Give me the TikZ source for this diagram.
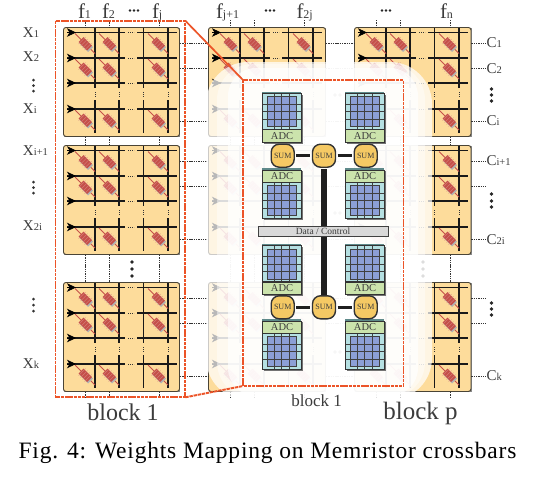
\documentclass[tikz,border=0pt]{standalone}
\usepackage{fontspec}
\setmainfont{Liberation Serif}
\usetikzlibrary{calc,arrows.meta}
\definecolor{tilefill}{HTML}{FDDC9B}
\definecolor{tileedge}{HTML}{4A4436}
\definecolor{memred}{HTML}{C5504A}
\definecolor{insetred}{HTML}{EC5428}
\definecolor{labelgray}{HTML}{3C3C3C}
\definecolor{cyanfill}{HTML}{B5E0E2}
\definecolor{bluefill}{HTML}{8C9FD6}
\definecolor{adcfill}{HTML}{CBE3AC}
\definecolor{sumfill}{HTML}{F5C964}
\definecolor{topface}{HTML}{5F8A8A}
\newcommand{\fsz}[1]{\fontsize{#1}{#1}\selectfont}
\tikzset{
  x=1pt,y=-1pt,
  txt/.style={inner sep=0pt,outer sep=0pt,text=labelgray},
  tilebox/.style={draw=tileedge,line width=.9pt,fill=tilefill,rounded corners=2.5pt,
    anchor=north west,inner sep=0pt,minimum height=109pt},
  wire/.style={line width=1.3pt,black!90},
  tick/.style={line width=.7pt,black!80,dash pattern=on 1.4pt off .9pt},
  redbox/.style={draw=insetred,line width=1.9pt,dash pattern=on 3.4pt off .8pt},
  busline/.style={line width=6pt,black!88},
  linkline/.style={line width=2.6pt,black!88,shorten <=1.5pt,shorten >=1.5pt},
  sumbox/.style={draw=black!80,line width=1.4pt,fill=sumfill,rounded corners=8pt,
    minimum width=23pt,minimum height=23pt,inner sep=0pt,font=\fsz{8},text=labelgray},
  flab/.style={txt,font=\fsz{21},anchor=base west},
  memr/.pic={
    \draw[memred,line width=1pt] (0,0) -- (20,20);
    \draw[black!30,line width=7pt] (7,7.5) -- (15.5,16);
    \draw[memred,line width=7pt] (6,6) -- (14.5,14.5);
    \foreach \t in {7,9,...,14}{\draw[memred!70!white,line width=.35pt] (\t-3.4,\t+3.4) -- (\t+3.4,\t-3.4);}
  }
}
\newcommand{\tile}[4]{% name, x, y, width
  \node[tilebox,minimum width=#4pt] (#1) at (#2,#3) {};
  \begin{scope}[shift={(#2,#3)}]
    \foreach \r in {5.5,31,56,82}{
      \draw[wire] (4,\r) -- (62,\r);
      \draw[wire] (74,\r) -- (114,\r);
      \draw[line width=1pt,black!80,dash pattern=on 1.2pt off .8pt] (65,\r) -- (71,\r);
      \draw[-{Stealth[length=9pt,width=8.5pt,inset=2.5pt]},line width=.8pt,black] (4,\r) -- (13,\r);
    }
    \foreach \c in {32,56,80.5,105}{
      \draw[wire] (\c,1) -- (\c,61);
      \draw[wire] (\c,73) -- (\c,106);
      \draw[line width=1pt,black!80,dash pattern=on 1.2pt off .8pt] (\c,65) -- (\c,70);
    }
    \foreach \r in {6.5,32,83}{
      \foreach \c in {12,36,85}{
        \pic at (\c,\r) {memr};
      }
    }
  \end{scope}
}
\newcommand{\cellgrid}[2]{% x,y of cyan top left
  \fill[cyanfill] (#1,#2) rectangle ++(38.7,36);
  \fill[bluefill] (#1+5.4,#2+3.4) rectangle ++(29,30);
  \draw[black!75,line width=.8pt] (#1+5.4,#2+3.4) rectangle ++(29,30);
  \foreach \d in {11.7,19.4,27}{\draw[black!75,line width=.8pt] (#1+\d,#2) -- ++(0,36);}
  \foreach \d in {10.7,18.4,26}{\draw[black!75,line width=.8pt] (#1,#2+\d) -- ++(38.7,0);}
}
\newcommand{\unitA}[3]{% name, x, y : cyan on top, ADC below
  \fill[black!55] (#2+1.6,#3+1.6) rectangle ++(38.7,49);
  \fill[topface] (#2,#3-1.4) rectangle ++(38.7,1.4);
  \cellgrid{#2}{#3}
  \node[draw=black!80,line width=.8pt,fill=adcfill,anchor=north west,minimum width=38.7pt,minimum height=12.7pt,inner sep=0pt,font=\fsz{10.5},text=labelgray] (#1) at (#2,#3+36) {ADC};
  \draw[black!80,line width=.8pt] (#2,#3) rectangle ++(38.7,36);
}
\newcommand{\unitB}[3]{% name, x, y : ADC on top, cyan below
  \fill[black!55] (#2+1.6,#3+1.6) rectangle ++(38.7,49);
  \fill[topface] (#2,#3-1.4) rectangle ++(38.7,1.4);
  \cellgrid{#2}{#3+12.7}
  \node[draw=black!80,line width=.8pt,fill=adcfill,anchor=north west,minimum width=38.7pt,minimum height=12.7pt,inner sep=0pt,font=\fsz{10.5},text=labelgray] (#1) at (#2,#3) {ADC};
  \draw[black!80,line width=.8pt] (#2,#3+12.7) rectangle ++(38.7,36);
}
\newcommand{\rl}[5]{\node[txt,font=\fsz{15},anchor=west] (#1) at (#2,#3) {#4\fsz{10.5}#5};}
\begin{document}
\begin{tikzpicture}
\useasboundingbox (0,0) rectangle (536,488);
\fill[white] (0,0) rectangle (536,488);
% crossbar tiles
\foreach \n/\y in {1/27,2/145,3/282}{
  \fill[black!45] (64.2,\y+1.3) rectangle ++(116,109);
  \fill[black!45] (209.2,\y+1.3) rectangle ++(117,109);
  \fill[black!45] (355.2,\y+1.3) rectangle ++(116.5,109);
  \tile{a\n}{63}{\y}{116}
  \tile{b\n}{208}{\y}{117}
  \tile{c\n}{354}{\y}{116.5}
}
% vertical ticks
\foreach \col in {a,b,c}{
  \foreach \d in {22,46,96}{
    \draw[tick] ($(\col1.north west)+(\d,-7)$) -- ($(\col1.north west)+(\d,0)$);
    \draw[tick] ($(\col1.south west)+(\d,0)$) -- ($(\col2.north west)+(\d,0)$);
    \draw[tick] ($(\col2.south west)+(\d,0)$) -- ($(\col3.north west)+(\d,0)$);
    \draw[tick] ($(\col3.south west)+(\d,0)$) -- ($(\col3.south west)+(\d,6)$);
  }
}
% horizontal ticks
\foreach \n in {1,2,3}{
  \foreach \d in {16,41,94}{
    \draw[tick] ($(a\n.north east)+(0,\d)$) -- ($(b\n.north west)+(0,\d)$);
    \draw[tick] ($(b\n.north east)+(0,\d)$) -- ($(c\n.north west)+(0,\d)$);
    \draw[tick] ($(c\n.north east)+(0,\d)$) -- ($(c\n.north east)+(14,\d)$);
  }
}
% dots between tiles
\foreach \x in {132,278,423}{\foreach \y in {262,269,276}{\fill[black!85] (\x,\y) circle (1.9);}}
\foreach \y in {95,213,352}{\fill[black!70] (335,\y) circle (1.8); \fill[black!70] (340,\y) circle (1.8);}
% translucent overlay
\fill[white,opacity=.72,rounded corners=42pt] (206,62) rectangle (432,400);
\fill[white,opacity=.45,rounded corners=36pt] (217,64) rectangle (425,398);
\fill[white,opacity=.7,rounded corners=28pt] (228,68) rectangle (418,396);
% outer selection
\draw[redbox] (55.5,20.7) rectangle (185.3,397.3);
\coordinate (ot) at (185.3,20.7);
\coordinate (ob) at (185.3,397.3);
\coordinate (it) at (243,80);
\coordinate (ib) at (243,386);
\draw[insetred,line width=1.7pt] (ot) -- (it);
\draw[redbox] (ob) -- (ib);
\draw[redbox] (243,80) rectangle (403.5,386);
% inset contents
\unitA{u1}{262.3}{93.3}
\unitA{u2}{345.3}{93.3}
\unitB{u3}{262.3}{169.5}
\unitB{u4}{345.3}{169.5}
\unitA{u5}{262.3}{245.5}
\unitA{u6}{345.3}{245.5}
\unitB{u7}{262.3}{320.7}
\unitB{u8}{345.3}{320.7}
\node[draw=black!75,line width=.8pt,fill=black!15,minimum width=130pt,minimum height=10pt,inner sep=0pt,font=\fsz{9.5},text=labelgray] (bus) at (323,231.2) {Data / Control};
\node[sumbox] (s1) at (282.7,155.7) {SUM};
\node[sumbox] (s2) at (324,155.7) {SUM};
\node[sumbox] (s3) at (365.7,155.7) {SUM};
\node[sumbox] (s4) at (282.7,307.3) {SUM};
\node[sumbox] (s5) at (324,307.3) {SUM};
\node[sumbox] (s6) at (365.7,307.3) {SUM};
\draw[linkline] (s1) -- (s2);
\draw[linkline] (s2) -- (s3);
\draw[linkline] (s4) -- (s5);
\draw[linkline] (s5) -- (s6);
\draw[busline,shorten <=1pt] (s2.south) -- (bus.north -| s2.south);
\draw[busline] (bus.south -| s5.north) -- (s5.north);
% column labels
\node[flab] (f1) at (78,18) {f\fsz{12}1};
\node[flab] (f2) at (102,18) {f\fsz{12}2};
\node[flab] (fj) at (152,18) {f\fsz{12}j};
\node[flab] (fj1) at (216,18) {f\fsz{12}j+1};
\node[flab] (f2j) at (296.5,18) {f\fsz{12}2j};
\node[flab] (fn) at (440,18) {f\fsz{12}n};
\foreach \x in {134,270,386}{\foreach \d in {-4,0,4}{\fill[black!85] (\x+\d,10.5) circle (1.4);}}
% row labels
\rl{x1}{23}{33}{X}{1}
\rl{x2}{23}{57}{X}{2}
\rl{xi}{23}{109}{X}{i}
\rl{xi1}{23}{151}{X}{i+1}
\rl{x2i}{23}{226}{X}{2i}
\rl{xk}{23}{364}{X}{k}
\rl{c1}{486.5}{43}{C}{1}
\rl{c2}{486.5}{68.5}{C}{2}
\rl{ci}{486.5}{121}{C}{i}
\rl{ci1}{486.5}{161}{C}{i+1}
\rl{c2i}{486.5}{240}{C}{2i}
\rl{ck}{486.5}{376}{C}{k}
\foreach \y in {80,85.5,91,182,187.5,193,299,305,311}{\fill[black!80] (33.5,\y) circle (1.5);}
\foreach \y in {89,95,101,194,201,207,303,309,315}{\fill[black!85] (491.5,\y) circle (1.9);}
% block labels and caption
\node[txt,font=\fsz{24}] (bk1) at (123,412) {block 1};
\node[txt,font=\fsz{17}] (bk2) at (316.7,401) {block 1};
\node[txt,font=\fsz{25}] (bkp) at (420.5,413) {block p};
\node[txt,font=\fsz{23.5}\addfontfeature{LetterSpace=3.4},text=black,anchor=base] (cap) at (267.5,458) {Fig. 4: Weights Mapping on Memristor crossbars};
\end{tikzpicture}
\end{document}
